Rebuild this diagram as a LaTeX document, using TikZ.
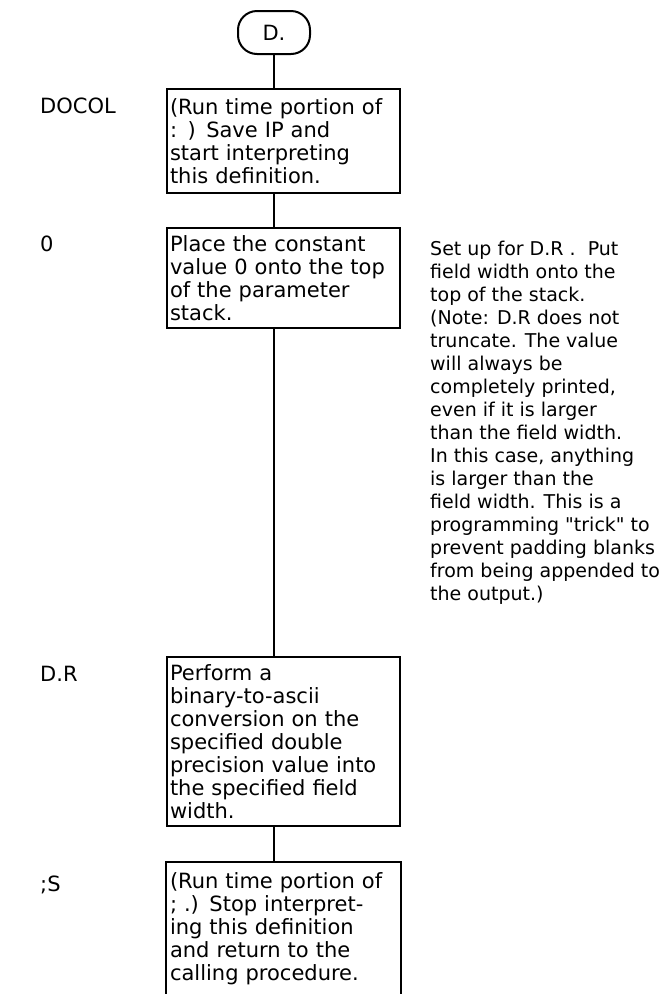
\documentclass[tikz,border=0pt]{standalone}
\usepackage{fontspec}
\setmainfont{DejaVu Sans}[Ligatures=TeXOff]
\begin{document}
\begin{tikzpicture}[x=1pt,y=-1pt,
  every node/.style={font=\fontsize{21}{23}\selectfont},
  box/.style={rectangle, anchor=north west, text width=227pt, inner xsep=3pt, inner ysep=0pt, align=left, line width=2pt},
  lab/.style={anchor=base west, inner sep=0pt},
  conn/.style={line width=2pt},
  term/.style={draw, line width=2pt, rounded corners=19pt, minimum width=72pt, minimum height=43pt, inner sep=0pt}]
\useasboundingbox (0,0) rectangle (665,994);

\node[term] (t) at (274,32.5) {D.};

\node[box, draw, minimum height=104pt] (b1) at (166,88)
  {(Run time portion of\\: ) Save IP and\\start interpreting\\this definition.};
\node[box, draw, minimum height=100pt] (b2) at (166,227)
  {Place the constant\\value 0 onto the top\\of the parameter\\stack.};
\node[box, draw, minimum height=169pt] (b3) at (166,656)
  {Perform a\\binary-to-ascii\\conversion on the\\specified double\\precision value into\\the specified field\\width.};
\node[box, minimum height=132pt] (b4) at (166,862)
  {(Run time portion of\\; .) Stop interpret-\\ing this definition\\and return to the\\calling procedure.};
\draw[line width=2pt] (b4.south west) -- (b4.north west) -- (b4.north east) -- (b4.south east);

\node[lab] (l1) at (40,113) {DOCOL};
\node[lab] (l2) at (40,251) {0};
\node[lab] (l3) at (40,681) {D.R};
\node[lab] (l4) at (40,891) {;S};

\node[anchor=north west, inner sep=0pt, align=left, font=\fontsize{19}{23}\selectfont] (note) at (430,241)
  {Set up for D.R .\ \ Put\\field width onto the\\top of the stack.\\(Note: D.R does not\\truncate. The value\\will always be\\completely printed,\\even if it is larger\\than the field width.\\In this case, anything\\is larger than the\\field width. This is a\\programming "trick" to\\prevent padding blanks\\from being appended to\\the output.)};

\draw[conn] (t.south) -- (t.south |- b1.north);
\draw[conn] (b1.south -| t.south) -- (b2.north -| t.south);
\draw[conn] (b2.south -| t.south) -- (b3.north -| t.south);
\draw[conn] (b3.south -| t.south) -- (b4.north -| t.south);
\end{tikzpicture}
\end{document}
